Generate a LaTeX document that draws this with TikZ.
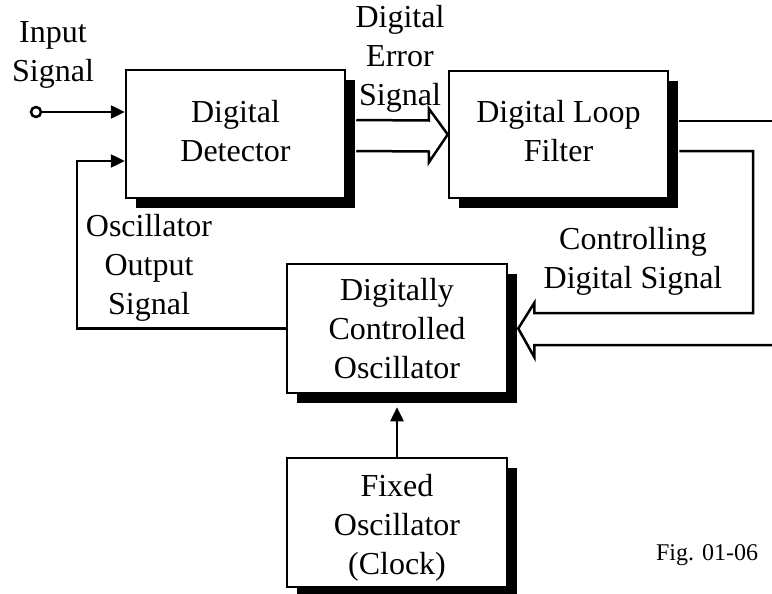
\documentclass[tikz,border=0pt]{standalone}
\usepackage{fontspec}
\setmainfont{Liberation Serif}
\usetikzlibrary{arrows.meta,shadows,calc}
\begin{document}
\begin{tikzpicture}[x=1pt,y=-1pt,
  font=\fontsize{32}{39}\selectfont,
  wire/.style={line width=2.5pt},
  box/.style={draw, line width=2.5pt, fill=white, align=center, inner sep=0pt,
    drop shadow={shadow xshift=10pt, shadow yshift=-10pt, opacity=1, fill=black}},
  lbl/.style={align=center, inner sep=0pt},
  tip/.style={-{Triangle[length=14pt,width=13pt]}}
]
\useasboundingbox (0,0) rectangle (772,594);
% boxes
\node[box, minimum width=219pt, minimum height=128pt] (det) at (235.5,134) {};
\node[lbl] (dettxt) at ($(det)+(0,-3)$) {Digital\\Detector};
\node[box, minimum width=219pt, minimum height=127pt] (flt) at (558.5,134.5) {};
\node[lbl] (flttxt) at ($(flt)+(0,-3)$) {Digital Loop\\Filter};
\node[box, minimum width=220pt, minimum height=129pt] (dco) at (397,328.5) {Digitally\\Controlled\\Oscillator};
\node[box, minimum width=220pt, minimum height=129pt] (clk) at (397,522.5) {};
\node[lbl] (clktxt) at ($(clk)+(0,5)$) {Fixed\\Oscillator\\(Clock)};
% labels
\node[lbl] (lin) at (53,55) {Input\\Signal};
\node[lbl] (lerr) at (400,59) {Digital\\Error\\Signal};
\node[lbl] (lctl) at (633,261) {Controlling\\Digital Signal};
\node[lbl] (losc) at (149,268) {Oscillator\\Output\\Signal};
\node[lbl, font=\fontsize{24}{29}\selectfont] (lfig) at (707,555) {Fig. 01-06};
% input
\node[circle, draw, line width=2.5pt, minimum size=10pt, inner sep=0pt] (in) at (36,112) {};
\draw[wire, tip] (in) -- (in -| det.west);
% feedback from DCO
\coordinate (fb) at (77,161);
\draw[wire, tip] (dco.west) -- (dco.west -| fb) -- (fb) -- (fb -| det.west);
% hollow arrow detector -> filter
\draw[wire, line join=miter]
  ($(det.east)+(10,-14)$) -- ($(flt.west)+(-19,-14)$) -- ($(flt.west)+(-19,-26)$)
  -- (flt.west) -- ($(flt.west)+(-19,28)$) -- ($(flt.west)+(-19,17)$) -- ($(det.east)+(10,17)$);
% filter outputs
\coordinate (out1) at (772,121);
\coordinate (out2) at (772,345);
\coordinate (bend) at (753,151);
\draw[wire] ($(flt.east)+(10,-13.5)$) -- (out1);
\draw[wire, line join=miter]
  ($(flt.east)+(10,16.5)$) -- (bend) -- ($(bend)+(0,162)$) -- ($(dco.east)+(26,-15.5)$)
  -- ($(dco.east)+(26,-25.5)$) -- ($(dco.east)+(10,0)$) -- ($(dco.east)+(26,28.5)$)
  -- ($(dco.east)+(26,16.5)$) -- (out2);
% clock -> DCO
\draw[wire, tip] (clk.north) -- ($(dco.south)+(0,13)$);
\end{tikzpicture}
\end{document}
